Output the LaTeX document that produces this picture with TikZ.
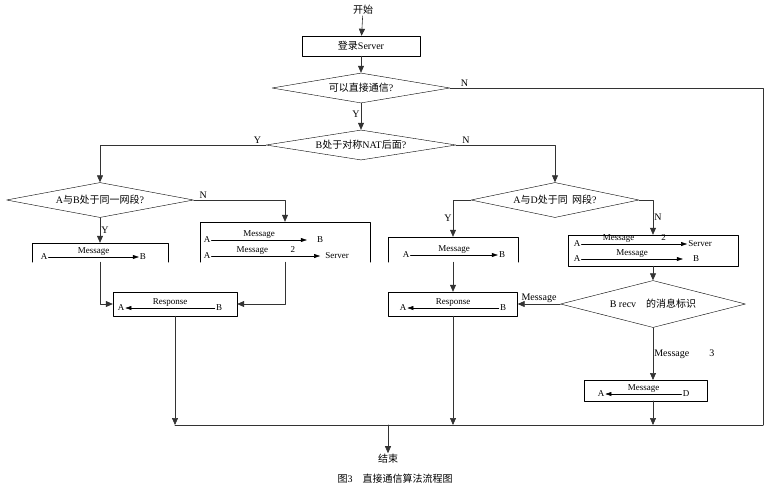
\documentclass[tikz,border=0pt]{standalone}
\usepackage{fontspec}
\setmainfont{Liberation Serif}
\newfontfamily\cjk{Noto Sans CJK SC}
\usetikzlibrary{arrows.meta}
\usetikzlibrary{shapes.geometric}

\tikzset{
  flow/.style={draw=black!80, line width=0.6pt},
  dec/.style={diamond, draw, aspect=6, inner sep=0pt, font=\fontsize{10}{11}\selectfont},
  proc/.style={draw, rectangle, inner sep=0pt},
  halfbox/.style={rectangle, inner sep=0pt},
  tag/.style={font=\fontsize{10}{11}\selectfont, inner sep=1pt},
  small/.style={font=\fontsize{9}{10}\selectfont, inner sep=1pt},
  msg/.style={-{Triangle[length=6pt,width=4pt]}, line width=0.5pt},
}

\begin{document}
\begin{tikzpicture}[x=1pt, y=-1pt, line cap=round, line join=round, >={Triangle[length=7pt,width=6pt]}]
\useasboundingbox (0,0) rectangle (774,491);

\node[tag] (start) at (363,10) {\cjk 开始};
\node[proc, minimum width=118pt, minimum height=20pt, tag] (login) at (361,46) {{\cjk 登录}Server};
\node[dec, minimum width=178pt, minimum height=30pt] (direct) at (361,88) {{\cjk 可以直接通信}?};
\node[dec, minimum width=190pt, minimum height=30pt] (nat) at (361,145) {B{\cjk 处于对称}NAT{\cjk 后面}?};
\node[dec, minimum width=187pt, minimum height=35pt] (same1) at (100,200) {A{\cjk 与}B{\cjk 处于同一网段}?};
\node[dec, minimum width=168pt, minimum height=35pt] (same2) at (555,200) {A{\cjk 与}D{\cjk 处于同\ \ 网段}?};
\node[dec, minimum width=185pt, minimum height=47pt] (recv) at (653,304) {B recv\quad{\cjk 的消息标识}};

% open boxes
\node[halfbox, minimum width=135pt, minimum height=19pt] (m1) at (100,252.5) {};
\node[halfbox, minimum width=170pt, minimum height=40pt] (m2) at (285,242) {};
\node[halfbox, minimum width=129pt, minimum height=25pt] (m3) at (453,249.5) {};
\foreach \b in {m1,m2,m3}
  \draw (\b.south west) -- (\b.north west) -- (\b.north east) -- (\b.south east);
\node[proc, minimum width=170pt, minimum height=31pt] (m4) at (653,250.5) {};
\node[proc, minimum width=124pt, minimum height=24pt] (r1) at (175,304) {};
\node[proc, minimum width=129pt, minimum height=24pt] (r2) at (453,304) {};
\node[proc, minimum width=123pt, minimum height=21pt] (m5) at (645.5,390.5) {};

% box contents
\node[small] (m1a) at (44,257) {A}; \node[small] (m1b) at (143,257) {B};
\draw[msg] (m1a) -- node[small, above] {Message} (m1b);
\node[small] (m2a) at (207,240) {A}; \node[small] (m2b) at (320,240) {B};
\draw[msg] (m2a) -- node[small, above] {Message} ([xshift=-9pt]m2b.west);
\node[small] (m2c) at (207,256) {A}; \node[small] (m2d) at (337,256) {Server};
\draw[msg] (m2c) -- node[small, above] {Message\qquad\ \ 2} ([xshift=-4pt]m2d.west);
\node[small] (m3a) at (406,255) {A}; \node[small] (m3b) at (502,255) {B};
\draw[msg] (m3a) -- node[small, above] {Message} (m3b);
\node[small] (m4a) at (577,244) {A}; \node[small] (m4b) at (700,244) {Server};
\draw[msg] (m4a) -- node[small, above] {Message\qquad\quad 2} (m4b);
\node[small] (m4c) at (577,259) {A}; \node[small] (m4d) at (696,259) {B};
\draw[msg] (m4c) -- node[small, above] {Message} ([xshift=-9pt]m4d.west);
\node[small] (r1a) at (121,308) {A}; \node[small] (r1b) at (219,308) {B};
\draw[msg] (r1b) -- node[small, above] {Response} (r1a);
\node[small] (r2a) at (403,308) {A}; \node[small] (r2b) at (503,308) {B};
\draw[msg] (r2b) -- node[small, above] {Response} (r2a);
\node[small] (m5a) at (601,394) {A}; \node[small] (m5b) at (686,394) {D};
\draw[msg] (m5b) -- node[small, above] {Message} (m5a);

% end and caption
\coordinate (bl) at (175,425);
\coordinate (br) at (763,425);
\coordinate (bm) at (388,425);
\coordinate (b2) at (453,425);
\coordinate (b3) at (653,425);
\coordinate (m5top) at (653,380);
\coordinate (m5bot) at (653,401);
\coordinate (dirN) at (763,88);
\coordinate (natY) at (100,145);
\coordinate (natN) at (555,145);
\coordinate (s1N) at (285,200);
\coordinate (s2Y) at (453,200);
\coordinate (s2N) at (653,200);
\node[tag] (end) at (388,459) {\cjk 结束};
\node[tag] (cap) at (395,479) {{\cjk 图}3\quad {\cjk 直接通信算法流程图}};

% connectors
\draw[flow,->] (start) -- (login);
\draw[flow,->] (login) -- (direct);
\draw[flow,->] (direct) -- node[tag, pos=0.4, left] {Y} (nat);
\draw[flow] (direct.east) -- node[tag, pos=0.03, above right] {N} (dirN) -- (br);
\draw[flow,->] (nat.west) -- node[tag, pos=0.02, above left] {Y} (natY) -- (same1.north);
\draw[flow,->] (nat.east) -- node[tag, pos=0.05, above right] {N} (natN) -- (same2.north);
\draw[flow,->] (same1.east) -- node[tag, pos=0.05, above right] {N} (s1N) -- (m2.north);
\draw[flow,->] (same1.south) -- node[tag, right] {Y} (m1.north);
\draw[flow,->] (m1.south) |- (r1.west);
\draw[flow,->] (m2.south) |- (r1.east);
\draw[flow,->] (r1.south) -- (bl);
\draw[flow,->] (same2.west) -- (s2Y) -- node[tag, left] {Y} (m3.north);
\draw[flow,->] (same2.east) -- (s2N) -- node[tag, right] {N} (m4.north);
\draw[flow,->] (m4.south) -- (recv.north);
\draw[flow,->] (recv.west) -- node[tag, above] {Message} (r2.east);
\draw[flow,->] (m3.south) -- (r2.north);
\draw[flow,->] (r2.south) -- (b2);
\draw[flow,->] (recv.south) -- node[tag, right] {Message\qquad 3} (m5top);
\draw[flow,->] (m5bot) -- (b3);
\draw[flow] (bl) -- (br);
\draw[flow,->] (bm) -- (end);
\end{tikzpicture}
\end{document}
